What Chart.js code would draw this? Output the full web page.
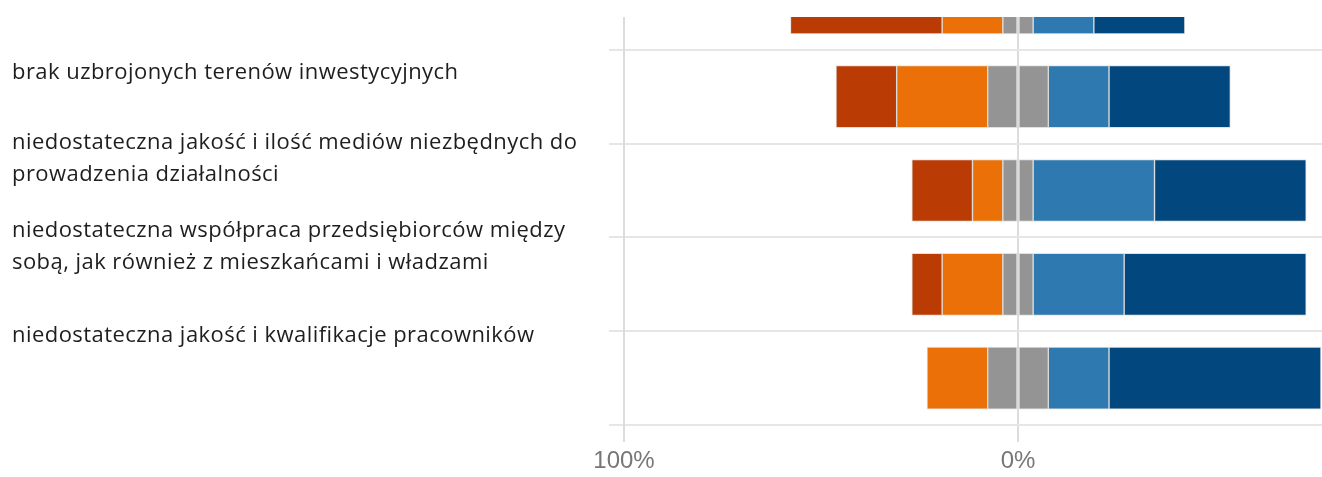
<!DOCTYPE html>
<html>
<head>
<meta charset="utf-8">
<script src="https://cdn.jsdelivr.net/npm/chart.js@4.4.1/dist/chart.umd.min.js"></script>
<style>
  html, body { margin: 0; padding: 0; background: #fff; width: 1322px; height: 477px; overflow: hidden; position: relative; }
  #wrap { position: absolute; left: 0; top: 17px; width: 1322px; height: 460px; overflow: hidden; }
  #c { position: absolute; left: 0; top: -61px; }
  .lbl { position: absolute; left: 12px; font-family: "Open Sans", sans-serif; font-size: 22px; letter-spacing: 0.45px; line-height: 32px; color: #1e1e1e; white-space: nowrap; }
</style>
</head>
<body>
<div id="wrap"><canvas id="c" width="1322" height="521"></canvas></div>
<div class="lbl" style="top:54px">brak uzbrojonych terenów inwestycyjnych</div>
<div class="lbl" style="top:124px">niedostateczna jakość i ilość mediów niezbędnych do<br>prowadzenia działalności</div>
<div class="lbl" style="top:212px">niedostateczna współpraca przedsiębiorców między<br>sobą, jak również z mieszkańcami i władzami</div>
<div class="lbl" style="top:317px">niedostateczna jakość i kwalifikacje pracowników</div>
<script>
// Categories (top bar is partly cut off in the reference)
const categories = [
  "",
  "brak uzbrojonych terenów inwestycyjnych",
  "niedostateczna jakość i ilość mediów niezbędnych do prowadzenia działalności",
  "niedostateczna współpraca przedsiębiorców między sobą, jak również z mieszkańcami i władzami",
  "niedostateczna jakość i kwalifikacje pracowników"
];
// Shares in percent
const stronglyNegative = [38.5, 15.4, 15.4, 7.7, 0];
const negative         = [15.4, 23.1, 7.7, 15.4, 15.4];
const neutral          = [7.7, 15.4, 7.7, 7.7, 15.4];
const positive         = [15.4, 15.4, 30.8, 23.1, 15.4];
const stronglyPositive = [23.1, 30.8, 38.5, 46.2, 53.8];
const tickValues = [-100, 0];
const tickLabels = ["100%", "0%"];

const colors = {
  sneg: "#BA3B03", neg: "#EB7007", neu: "#949494", pos: "#2D79B0", spos: "#03477F"
};
const border = "rgba(200,200,200,0.55)";
function ds(label, data, color) {
  return { label, data, backgroundColor: color, borderColor: border, borderWidth: 1, borderSkipped: false, barThickness: 62, stack: "s" };
}

new Chart(document.getElementById("c"), {
  type: "bar",
  data: {
    labels: categories,
    datasets: [
      ds("neutralne (lewa)", neutral.map(v => -v / 2), colors.neu),
      ds("negatywne", negative.map(v => -v), colors.neg),
      ds("zdecydowanie negatywne", stronglyNegative.map(v => -v), colors.sneg),
      ds("neutralne (prawa)", neutral.map(v => v / 2), colors.neu),
      ds("pozytywne", positive, colors.pos),
      ds("zdecydowanie pozytywne", stronglyPositive, colors.spos)
    ]
  },
  options: {
    indexAxis: "y",
    responsive: false,
    animation: false,
    devicePixelRatio: 1,
    layout: { padding: { left: 609, right: 0, top: 0, bottom: 0 } },
    plugins: { legend: { display: false }, tooltip: { enabled: false } },
    scales: {
      x: {
        stacked: true,
        min: -100,
        max: 77.16,
        z: 1,
        afterBuildTicks: s => { s.ticks = tickValues.map(v => ({ value: v })); },
        afterFit: s => { s.height = 52; },
        grid: { color: "#dcdcdc", lineWidth: 2, tickLength: 17, drawOnChartArea: true },
        border: { display: false },
        ticks: {
          padding: 5,
          color: "#777",
          font: { family: "'Liberation Sans', Arial, sans-serif", size: 24 },
          callback: (v) => tickLabels[tickValues.indexOf(v)] ?? ""
        }
      },
      y: {
        stacked: true,
        afterFit: s => { s.width = 15; },
        grid: { color: "#e6e6e6", lineWidth: 2, tickLength: 15, offset: true },
        border: { display: true, color: "#dcdcdc", width: 2 },
        ticks: { display: false }
      }
    }
  }
});
</script>
</body>
</html>
